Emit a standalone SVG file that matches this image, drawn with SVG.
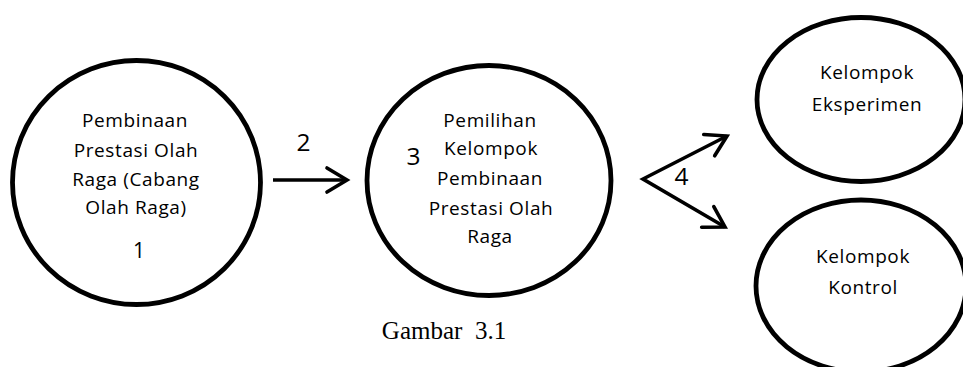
<svg xmlns="http://www.w3.org/2000/svg" width="963" height="367" viewBox="0 0 963 367">
<style>
.shape{fill:#fff;stroke:#000;stroke-width:4.8}
.t{font-family:"Open Sans","Noto Sans",sans-serif;font-size:19px;letter-spacing:0.6px;fill:#000;text-anchor:middle}
.n{font-family:"Open Sans","Noto Sans",sans-serif;font-size:24.5px;fill:#000;text-anchor:middle}
.c{fill:none;stroke:#000;stroke-width:3.6;stroke-linejoin:miter}
.cap{font-family:"Liberation Serif","Times New Roman",serif;font-size:25px;fill:#000;text-anchor:middle;white-space:pre}
</style>
<defs>
<marker id="open" markerUnits="userSpaceOnUse" viewBox="-26 -16 30 32" refX="0" refY="0" markerWidth="30" markerHeight="32" orient="auto-start-reverse" overflow="visible">
<path d="M-20,-12 L0,0 L-20,12" fill="none" stroke="#000" stroke-width="3.6" stroke-linecap="round" stroke-linejoin="miter"/>
</marker>
</defs>
<rect width="963" height="367" fill="#fff"/>
<g id="node1">
<ellipse class="shape" cx="136.5" cy="182.5" rx="124" ry="122"/>
<text class="t" x="135" y="127">Pembinaan</text>
<text class="t" x="136" y="157">Prestasi Olah</text>
<text class="t" x="136" y="186">Raga (Cabang</text>
<text class="t" x="136" y="214">Olah Raga)</text>
<text class="n" x="139" y="258" style="font-size:21px">1</text>
</g>
<g id="node3">
<ellipse class="shape" cx="489" cy="180.5" rx="122" ry="115"/>
<text class="t" x="490" y="127">Pemilihan</text>
<text class="t" x="491" y="155">Kelompok</text>
<text class="t" x="490" y="185">Pembinaan</text>
<text class="t" x="491" y="215">Prestasi Olah</text>
<text class="t" x="490" y="243">Raga</text>
<text class="n" x="413.5" y="165">3</text>
</g>
<g id="node-eksperimen">
<ellipse class="shape" cx="861" cy="99.5" rx="104" ry="82"/>
<text class="t" x="867" y="79">Kelompok</text>
<text class="t" x="867" y="111">Eksperimen</text>
</g>
<g id="node-kontrol">
<ellipse class="shape" cx="861" cy="286" rx="105" ry="86"/>
<text class="t" x="863" y="263">Kelompok</text>
<text class="t" x="863" y="294">Kontrol</text>
</g>
<g id="connectors">
<path class="c" d="M273,180 L347,180" marker-end="url(#open)"/>
<text class="n" x="303.5" y="151">2</text>
<path class="c" d="M727,136 L643,179 L725,227" marker-start="url(#open)" marker-end="url(#open)"/>
<text class="n" x="681.5" y="185">4</text>
</g>
<text class="cap" x="444" y="339" xml:space="preserve">Gambar  3.1</text>
</svg>
